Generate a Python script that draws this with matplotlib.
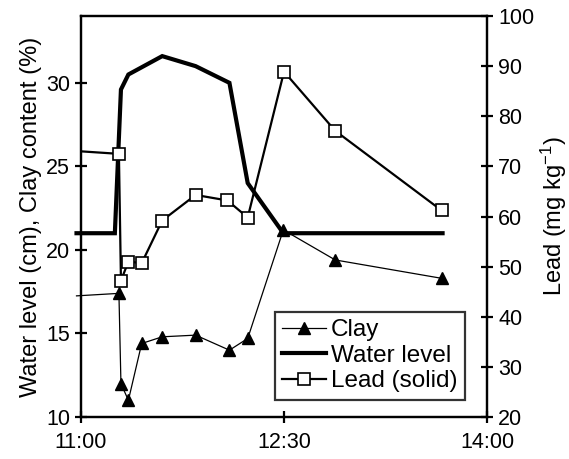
import matplotlib
matplotlib.use("Agg")
import matplotlib.pyplot as plt

plt.rcParams['font.family'] = ['Liberation Sans', 'DejaVu Sans']
plt.rcParams['mathtext.fontset'] = 'custom'
plt.rcParams['mathtext.rm'] = 'Liberation Sans'
plt.rcParams['mathtext.it'] = 'Liberation Sans:italic'

# minutes after 11:00
clay_t = [-2, 16.8, 17.7, 21, 26.9, 36, 50.8, 65.8, 73.9, 89.7, 112.7, 159.9]
clay = [17.25, 17.4, 12.0, 11.0, 14.4, 14.8, 14.9, 14.0, 14.7, 21.2, 19.4, 18.3]

water_t = [-2, 15, 17.7, 21, 36, 50.8, 65.8, 73.9, 89.7, 160.3]
water = [21.0, 21.0, 29.6, 30.5, 31.6, 31.0, 30.0, 24.0, 21.0, 21.0]

lead_t = [0, 16.8, 17.7, 21, 26.9, 36, 50.8, 64.9, 73.9, 90, 112.7, 159.9]
lead = [73.0, 72.5, 47.2, 51.0, 50.7, 59.2, 64.3, 63.2, 59.8, 88.9, 77.1, 61.2]

xticks = [0, 90, 180]
xlabels = ['11:00', '12:30', '14:00']

fs = 15.5
fig = plt.figure(figsize=(5.69, 4.59), dpi=100)
ax = fig.add_axes([0.1424, 0.0915, 0.7135, 0.8736])
ax2 = ax.twinx()

h1, = ax.plot(clay_t, clay, color='black', lw=0.9, marker='^', ms=8.5,
              markevery=list(range(1, len(clay))), clip_on=False, label='Clay')
h2, = ax.plot(water_t, water, color='black', lw=3.0, solid_joinstyle='miter',
              clip_on=False, label='Water level')
h3, = ax2.plot(lead_t, lead, color='black', lw=1.6, marker='s', ms=8.5,
               mfc='white', mec='black', mew=1.2,
               markevery=list(range(1, len(lead))), label='Lead (solid)')

ax.set_xlim(0, 180)
ax.set_ylim(10, 34)
ax2.set_ylim(20, 100)
ax.set_xticks(xticks)
ax.set_xticklabels(xlabels)
ax.set_yticks([10, 15, 20, 25, 30])
ax2.set_yticks(range(20, 101, 10))

for a in (ax, ax2):
    for s in a.spines.values():
        s.set_linewidth(1.6)
    a.tick_params(direction='inout', length=8, width=1.6, labelsize=fs, pad=4)
ax.tick_params(axis='x', pad=7)

ax.set_ylabel('Water level (cm), Clay content (%)', fontsize=17, labelpad=3)
ax2.set_ylabel('Lead (mg kg$^{-1}$)', fontsize=17, labelpad=3)

leg = ax2.legend(handles=[h1, h2, h3], loc='lower right',
                 bbox_to_anchor=(0.945, 0.043), fontsize=17.5, frameon=True,
                 fancybox=False, handlelength=1.8, handletextpad=0.2,
                 borderpad=0.3, labelspacing=0.15, borderaxespad=0)
leg.get_frame().set_edgecolor('black')
leg.get_frame().set_linewidth(1.6)

fig.savefig('out.png', dpi=100)
